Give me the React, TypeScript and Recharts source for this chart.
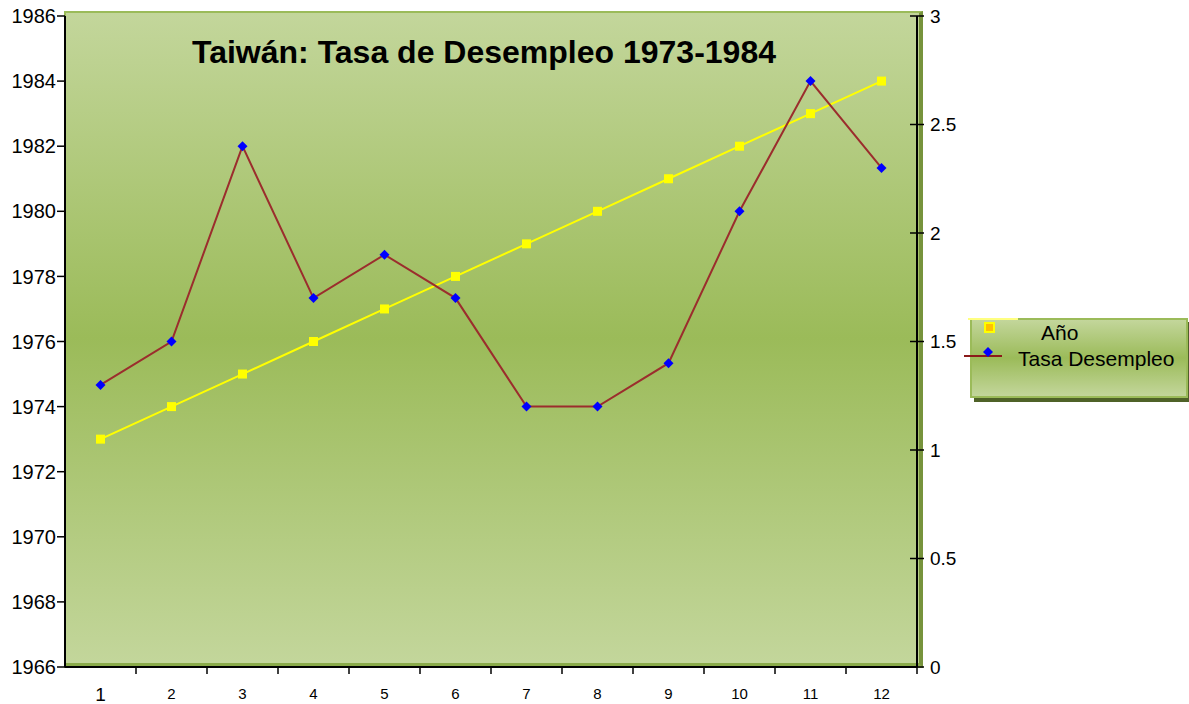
import React from "react";
import { ComposedChart, Line, XAxis, YAxis } from "recharts";

const periodos = [1, 2, 3, 4, 5, 6, 7, 8, 9, 10, 11, 12];
const anos = [1973, 1974, 1975, 1976, 1977, 1978, 1979, 1980, 1981, 1982, 1983, 1984];
const tasaDesempleo = [1.3, 1.5, 2.4, 1.7, 1.9, 1.7, 1.2, 1.2, 1.4, 2.1, 2.7, 2.3];
const anoTicks = [1966, 1968, 1970, 1972, 1974, 1976, 1978, 1980, 1982, 1984, 1986];
const tasaTicks = [0, 0.5, 1, 1.5, 2, 2.5, 3];
const limiteTicks = [1.5, 2.5, 3.5, 4.5, 5.5, 6.5, 7.5, 8.5, 9.5, 10.5, 11.5, 12.5];

const data = periodos.map((p, i) => ({ periodo: p, ano: anos[i], tasa: tasaDesempleo[i] }));
const xTicks = [...periodos, ...limiteTicks].sort((a, b) => a - b);

const font = "'Liberation Sans', Arial, sans-serif";
const verde = "linear-gradient(to bottom, #c3d69b 0%, #9bbb59 50%, #c3d69b 100%)";
const X_MARGIN = 21;

const SquareDot = (props: any) => {
  const { cx, cy } = props;
  if (cx == null || cy == null) return null;
  return <rect x={cx - 4.5} y={cy - 4.5} width={9} height={9} fill="#ffff00" />;
};

const DiamondDot = (props: any) => {
  const { cx, cy } = props;
  if (cx == null || cy == null) return null;
  return <path d={`M${cx},${cy - 5} L${cx + 5},${cy} L${cx},${cy + 5} L${cx - 5},${cy} Z`} fill="#0000ff" />;
};

// integer ticks get a label, half ticks (category boundaries) get a tick mark
const XTick = (props: any) => {
  const { x, y, payload } = props;
  const v = payload.value;
  if (!Number.isInteger(v)) {
    const axisY = y - X_MARGIN;
    return <line x1={x} y1={axisY} x2={x} y2={axisY + 7} stroke="#000" strokeWidth={1.5} />;
  }
  return (
    <text x={x} y={y} dy="0.71em" textAnchor="middle" fontSize={v === 1 ? 19 : 15} fill="#000" fontFamily={font}>
      {v}
    </text>
  );
};

const RightTick = (props: any) => {
  const { x, y, payload } = props;
  return (
    <g>
      <line x1={x - 14} y1={y} x2={x} y2={y} stroke="#000" strokeWidth={1.5} />
      <text x={x + 6} y={y} dy="0.355em" textAnchor="start" fontSize={19} fill="#000" fontFamily={font}>
        {payload.value}
      </text>
    </g>
  );
};

const LegendBox = () => (
  <div
    style={{
      position: "absolute",
      left: 970,
      top: 318,
      width: 214,
      height: 76,
      background: verde,
      border: "2px solid #9bbb59",
      boxShadow: "4px 4px 0 #4f6228",
      fontFamily: font,
      fontSize: 21,
      color: "#000",
    }}
  >
    <svg width={60} height={60} style={{ position: "absolute", left: -4, top: -2, overflow: "visible" }}>
      <line x1={0} y1={1} x2={50} y2={1} stroke="#ffff80" strokeWidth={2} />
      <rect x={17} y={5} width={9} height={9} fill="#ffc000" stroke="#ffff00" strokeWidth={2} />
      <line x1={-4} y1={38} x2={34} y2={38} stroke="#8b1a1a" strokeWidth={2} />
      <path d="M20,29 L25,34 L20,39 L15,34 Z" fill="#0000ff" />
    </svg>
    <div style={{ position: "absolute", left: 69, top: 1 }}>Año</div>
    <div style={{ position: "absolute", left: 46, top: 27 }}>Tasa Desempleo</div>
  </div>
);

export default function App() {
  return (
    <div style={{ position: "absolute", left: 0, top: 0, width: 1189, height: 704, background: "#fff" }}>
      <div
        style={{
          position: "absolute",
          left: 64,
          top: 11,
          width: 853,
          height: 650,
          background: verde,
          borderTop: "2px solid #9bbb59",
          borderLeft: "2px solid #9bbb59",
          borderRight: "4px solid #77933c",
          borderBottom: "5px solid #8aab4a",
        }}
      />
      <div
        style={{
          position: "absolute",
          left: 150,
          top: 34,
          width: 668,
          textAlign: "center",
          fontFamily: font,
          fontWeight: "bold",
          fontSize: 32,
          color: "#000",
          whiteSpace: "nowrap",
        }}
      >
        Taiwán: Tasa de Desempleo 1973-1984
      </div>
      <LegendBox />
      <div style={{ position: "absolute", left: 0, top: 0 }}>
        <ComposedChart width={1189} height={704} data={data} margin={{ top: 16, right: 0, left: 0, bottom: 0 }}>
          <XAxis
            xAxisId="lab"
            type="number"
            dataKey="periodo"
            domain={[0.5, 12.5]}
            ticks={xTicks}
            interval={0}
            minTickGap={0}
            height={37}
            axisLine={{ stroke: "#000", strokeWidth: 2 }}
            tickLine={false}
            tickSize={0}
            tickMargin={X_MARGIN}
            tick={<XTick />}
          />
          <YAxis
            yAxisId="ano"
            orientation="left"
            width={65}
            domain={[1966, 1986]}
            ticks={anoTicks}
            interval={0}
            tickSize={8}
            tickMargin={1}
            axisLine={{ stroke: "#000", strokeWidth: 2 }}
            tickLine={{ stroke: "#000", strokeWidth: 1.5 }}
            tick={{ fill: "#000", fontSize: 20, fontFamily: font }}
          />
          <YAxis
            yAxisId="tasa"
            orientation="right"
            width={272}
            domain={[0, 3]}
            ticks={tasaTicks}
            interval={0}
            tickSize={7}
            tickMargin={0}
            axisLine={{ stroke: "#000", strokeWidth: 2 }}
            tickLine={false}
            tick={<RightTick />}
          />
          <Line
            xAxisId="lab"
            yAxisId="ano"
            dataKey="ano"
            name="Año"
            stroke="#ffff00"
            strokeWidth={2}
            dot={<SquareDot />}
            activeDot={false}
            isAnimationActive={false}
          />
          <Line
            xAxisId="lab"
            yAxisId="tasa"
            dataKey="tasa"
            name="Tasa Desempleo"
            stroke="#9b2d2d"
            strokeWidth={2}
            dot={<DiamondDot />}
            activeDot={false}
            isAnimationActive={false}
          />
        </ComposedChart>
      </div>
    </div>
  );
}
